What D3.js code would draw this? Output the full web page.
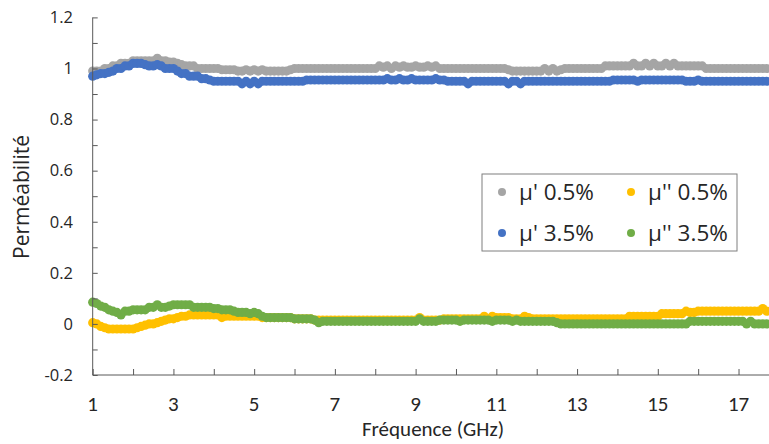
<!DOCTYPE html>
<html><head><meta charset="utf-8">
<script src="https://cdn.jsdelivr.net/npm/d3@7"></script>
<style>body{margin:0;background:#fff}svg{display:block}</style>
</head><body>
<script>
// Frequency sweep (GHz), 0.1 GHz steps from 1.0 to 17.7
const freqStart = 1.0, freqStep = 0.1, nPts = 168;
const seriesNames = ["μ' 0.5%", "μ'' 0.5%", "μ' 3.5%", "μ'' 3.5%"];
const seriesColors = ["#A5A5A5", "#FFC000", "#4472C4", "#70AD47"];
const xTicks = [1,2,3,4,5,6,7,8,9,10,11,12,13,14,15,16,17];
const xTickLabels = ["1","3","5","7","9","11","13","15","17"];
const yTickLabels = ["-0.2","0","0.2","0.4","0.6","0.8","1","1.2"];

const muP05 = [
0.99,0.99,0.99,1.00,1.00,1.01,1.01,1.02,1.02,1.02,
1.03,1.03,1.03,1.03,1.03,1.03,1.04,1.03,1.03,1.025,
1.025,1.02,1.015,1.01,1.01,1.01,1.00,1.00,1.00,1.00,
1.00,1.00,0.995,0.995,0.995,0.995,0.99,0.99,0.995,0.99,
0.995,0.99,0.995,0.99,0.99,0.99,0.99,0.99,0.99,0.995,
1.00,1.00,1.00,1.00,1.00,1.00,1.00,1.00,1.00,1.00,
1.00,1.00,1.00,1.00,1.00,1.00,1.00,1.00,1.00,1.00,
1.00,1.01,1.005,1.01,1.00,1.01,1.005,1.01,1.005,1.005,
1.01,1.005,1.005,1.01,1.005,1.01,1.00,1.00,1.00,1.00,
1.00,1.00,1.00,1.00,1.00,1.00,1.00,1.00,1.00,1.00,
1.00,1.00,1.00,0.995,0.99,0.99,0.99,0.99,0.99,0.99,
0.99,0.99,1.00,0.99,1.00,0.99,0.995,1.00,1.00,1.00,
1.00,1.00,1.00,1.00,1.00,1.00,1.00,1.01,1.01,1.01,
1.01,1.01,1.01,1.01,1.02,1.01,1.01,1.02,1.01,1.02,
1.01,1.01,1.02,1.01,1.02,1.01,1.01,1.01,1.01,1.01,
1.01,1.01,1.00,1.00,1.00,1.00,1.00,1.00,1.00,1.00,
1.00,1.00,1.00,1.00,1.00,1.00,1.00,1.00];

const muPP05 = [
0.005,0.00,-0.01,-0.015,-0.02,-0.02,-0.02,-0.02,-0.02,-0.02,
-0.02,-0.015,-0.01,-0.005,0.00,0.00,0.005,0.01,0.015,0.02,
0.02,0.025,0.03,0.03,0.035,0.035,0.035,0.035,0.035,0.035,
0.035,0.035,0.025,0.03,0.03,0.03,0.03,0.03,0.03,0.03,
0.03,0.03,0.025,0.025,0.025,0.025,0.025,0.025,0.025,0.025,
0.02,0.02,0.02,0.02,0.02,0.015,0.015,0.015,0.015,0.015,
0.015,0.015,0.015,0.015,0.015,0.015,0.015,0.015,0.015,0.015,
0.015,0.015,0.015,0.015,0.015,0.015,0.015,0.015,0.015,0.015,
0.015,0.025,0.015,0.015,0.015,0.015,0.015,0.02,0.02,0.02,
0.02,0.02,0.02,0.02,0.02,0.02,0.02,0.03,0.02,0.03,
0.025,0.025,0.025,0.025,0.02,0.02,0.02,0.03,0.025,0.02,
0.02,0.02,0.02,0.02,0.02,0.02,0.02,0.02,0.02,0.02,
0.02,0.02,0.02,0.02,0.02,0.02,0.02,0.02,0.02,0.02,
0.02,0.02,0.02,0.03,0.03,0.03,0.03,0.03,0.03,0.03,
0.03,0.04,0.04,0.04,0.04,0.04,0.04,0.05,0.045,0.045,
0.05,0.05,0.05,0.05,0.05,0.05,0.05,0.05,0.05,0.05,
0.05,0.05,0.05,0.05,0.05,0.05,0.06,0.05];

const muP35 = [
0.97,0.975,0.98,0.98,0.985,0.99,1.00,1.00,1.01,1.01,
1.02,1.02,1.02,1.015,1.01,1.01,1.015,1.01,1.00,1.00,
1.00,0.99,0.98,0.98,0.97,0.97,0.97,0.96,0.96,0.955,
0.95,0.95,0.95,0.95,0.95,0.95,0.95,0.94,0.95,0.94,
0.95,0.94,0.95,0.95,0.95,0.95,0.95,0.95,0.95,0.95,
0.95,0.95,0.95,0.955,0.955,0.955,0.955,0.955,0.955,0.955,
0.955,0.955,0.955,0.955,0.955,0.955,0.955,0.955,0.955,0.955,
0.955,0.955,0.955,0.96,0.955,0.955,0.96,0.955,0.955,0.96,
0.955,0.955,0.955,0.955,0.955,0.96,0.955,0.955,0.95,0.95,
0.95,0.95,0.95,0.94,0.95,0.95,0.95,0.95,0.95,0.95,
0.95,0.95,0.95,0.94,0.95,0.95,0.94,0.95,0.95,0.95,
0.95,0.95,0.95,0.95,0.95,0.95,0.95,0.95,0.95,0.95,
0.95,0.95,0.95,0.95,0.95,0.95,0.95,0.95,0.95,0.955,
0.955,0.955,0.955,0.955,0.955,0.95,0.955,0.955,0.955,0.955,
0.955,0.955,0.955,0.955,0.955,0.955,0.955,0.95,0.95,0.95,
0.955,0.95,0.95,0.95,0.95,0.95,0.95,0.95,0.95,0.95,
0.95,0.95,0.95,0.95,0.95,0.95,0.95,0.95];

const muPP35 = [
0.085,0.08,0.07,0.065,0.055,0.05,0.045,0.035,0.05,0.05,
0.055,0.055,0.055,0.055,0.065,0.065,0.075,0.065,0.065,0.07,
0.075,0.075,0.075,0.075,0.075,0.065,0.065,0.065,0.065,0.065,
0.06,0.06,0.055,0.055,0.055,0.05,0.045,0.045,0.045,0.04,
0.045,0.04,0.03,0.025,0.025,0.025,0.025,0.025,0.025,0.025,
0.02,0.02,0.02,0.02,0.02,0.015,0.005,0.01,0.01,0.01,
0.01,0.01,0.01,0.01,0.01,0.01,0.01,0.01,0.01,0.01,
0.01,0.01,0.01,0.01,0.01,0.01,0.01,0.01,0.01,0.01,
0.01,0.02,0.01,0.01,0.01,0.01,0.015,0.015,0.015,0.015,
0.015,0.01,0.015,0.015,0.015,0.015,0.015,0.015,0.015,0.01,
0.015,0.015,0.015,0.015,0.01,0.015,0.01,0.01,0.01,0.01,
0.01,0.01,0.01,0.01,0.01,0.005,0.0,0.0,0.0,0.0,
0.0,0.0,0.0,0.0,0.0,0.0,0.0,0.0,0.0,0.0,
0.0,0.0,0.0,0.0,0.0,0.0,0.0,0.0,0.0,0.0,
0.0,0.0,0.0,0.0,0.0,0.0,0.0,0.0,0.01,0.01,
0.01,0.01,0.01,0.01,0.01,0.01,0.01,0.01,0.01,0.01,
0.01,0.01,0.0,0.01,0.0,0.0,0.0,0.0];

const freqs = d3.range(nPts).map(i => +(freqStart + i * freqStep).toFixed(1));
const allSeries = [muP05, muPP05, muP35, muPP35];

const W = 769, H = 444;
const svg = d3.select("body").append("svg").attr("width", W).attr("height", H);
const x = d3.scaleLinear().domain([1, 17.755]).range([92.7, 769]);
const y = d3.scaleLinear().domain([-0.2, 1.2]).range([375, 17.4]);

const tickFont = "'Open Sans', 'Noto Sans', sans-serif";
const xFont = "Carlito, 'Liberation Sans Narrow', 'DejaVu Sans Condensed', sans-serif";
const axisColor = "#595959";

// series (drawn first so axes sit on top like Excel)
const g = svg.append("g");
allSeries.forEach((vals, si) => {
  g.append("g").selectAll("circle").data(vals).join("circle")
    .attr("cx", (d, i) => x(freqs[i]))
    .attr("cy", d => y(d))
    .attr("r", 4.6)
    .attr("fill", seriesColors[si]);
});

// y axis
const yAxis = d3.axisRight(y).tickValues(d3.range(-2, 13).map(k => k / 10)).tickSize(5).tickFormat("");
const ya = svg.append("g").attr("transform", "translate(92.7,0)").call(yAxis);
ya.select(".domain").attr("stroke", axisColor).attr("d", `M0,${y(1.2)}V${y(-0.2)}`);
ya.selectAll(".tick line").attr("stroke", axisColor);
svg.append("g").selectAll("text").data(yTickLabels).join("text")
  .attr("x", 73).attr("y", d => y(+d)).attr("dy", "0.35em")
  .attr("text-anchor", "end").attr("font-family", tickFont).attr("font-size", 16.5)
  .attr("fill", "#262626").text(d => d);

// x axis
const xAxis = d3.axisTop(x).tickValues(xTicks).tickSize(6).tickFormat("");
const xa = svg.append("g").attr("transform", `translate(0,${y(-0.2)})`).call(xAxis);
xa.select(".domain").attr("stroke", axisColor).attr("d", `M${x(1)},0H769`);
xa.selectAll(".tick line").attr("stroke", axisColor);
svg.append("g").selectAll("text").data(xTickLabels).join("text")
  .attr("x", d => x(+d)).attr("y", 404).attr("dy", "0.35em")
  .attr("text-anchor", "middle").attr("font-family", xFont).attr("font-size", 21)
  .attr("fill", "#262626").text(d => d);

// axis titles
svg.append("text").attr("x", 433).attr("y", 429).attr("dy", "0.35em")
  .attr("text-anchor", "middle").attr("font-family", xFont).attr("font-size", 21)
  .attr("fill", "#262626").text("Fréquence (GHz)");
svg.append("text").attr("transform", "translate(22,197) rotate(-90)").attr("dy", "0.35em")
  .attr("text-anchor", "middle").attr("font-family", tickFont).attr("font-size", 21)
  .attr("fill", "#262626").text("Perméabilité");

// legend
const lg = svg.append("g");
lg.append("rect").attr("x", 482).attr("y", 174).attr("width", 255).attr("height", 77)
  .attr("fill", "#fff").attr("stroke", "#7f7f7f").attr("stroke-width", 1);
const legPos = [[502, 192], [631, 192], [502, 233], [631, 233]];
seriesNames.forEach((nm, i) => {
  const [lx, ly] = legPos[i];
  lg.append("circle").attr("cx", lx).attr("cy", ly).attr("r", 4).attr("fill", seriesColors[i]);
  lg.append("text").attr("x", lx + 17).attr("y", ly).attr("dy", "0.35em")
    .attr("font-family", tickFont).attr("font-size", 22.5).attr("fill", "#262626").text(nm);
});
</script>
</body></html>
